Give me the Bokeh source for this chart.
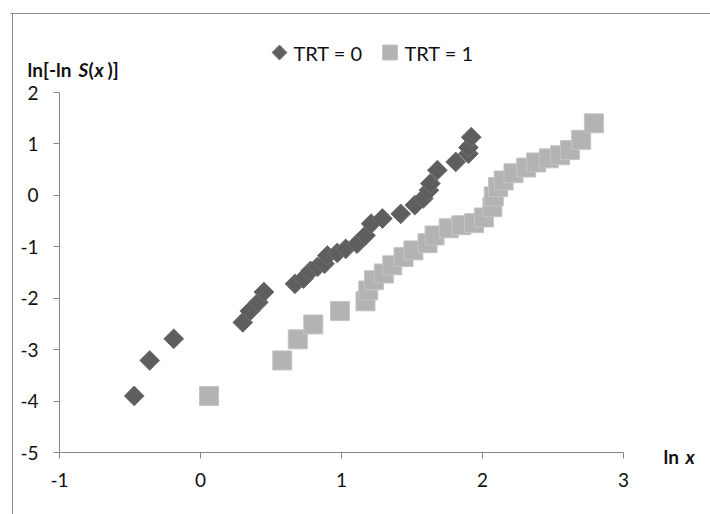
import math

from bokeh.plotting import figure
from bokeh.models import Range1d, FixedTicker, Label, LinearAxis
from bokeh.embed import file_html
from bokeh.resources import INLINE

# ln x  vs  ln[-ln S(x)] for the two treatment groups
trt0_lnx = [-0.47, -0.36, -0.19, 0.30, 0.35, 0.41, 0.45, 0.67, 0.73, 0.78, 0.83,
            0.88, 0.90, 0.97, 1.03, 1.11, 1.17, 1.21, 1.29, 1.42, 1.52, 1.58,
            1.62, 1.63, 1.68, 1.81, 1.90, 1.90, 1.92]
trt0_lnls = [-3.90, -3.21, -2.79, -2.47, -2.25, -2.08, -1.88, -1.72, -1.62, -1.47,
             -1.39, -1.33, -1.17, -1.12, -1.04, -0.94, -0.78, -0.55, -0.45, -0.36,
             -0.19, -0.06, 0.10, 0.23, 0.49, 0.65, 0.81, 0.93, 1.13]

trt1_lnx = [0.06, 0.58, 0.69, 0.80, 0.99, 1.17, 1.19, 1.23, 1.30, 1.36, 1.44, 1.51,
            1.61, 1.66, 1.76, 1.85, 1.94, 2.01, 2.07, 2.08, 2.11, 2.15, 2.22, 2.31,
            2.38, 2.47, 2.55, 2.62, 2.70, 2.79]
trt1_lnls = [-3.90, -3.21, -2.80, -2.51, -2.25, -2.06, -1.85, -1.65, -1.52, -1.36,
             -1.20, -1.07, -0.93, -0.78, -0.64, -0.58, -0.54, -0.43, -0.23, -0.02,
             0.16, 0.29, 0.43, 0.54, 0.64, 0.72, 0.78, 0.88, 1.08, 1.40]

x_ticks = [-1, 0, 1, 2, 3]
y_ticks = [-5, -4, -3, -2, -1, 0, 1, 2]
legend_labels = ["TRT = 0", "TRT = 1"]

FONT = "Lato"
AXIS_GRAY = "#868686"
TEXT = "#111111"
DARK = "#5e5e5e"
LIGHT = "#b3b3b3"

W, H = 710, 514
# axis box on the canvas: x = -1..3 spans px 59..623, y = -5..2 spans px 452..92
X0_PX, X_SCALE = 59, 141.0
Y0_PX, Y_SCALE = 452, 360 / 7


def px_x(px):
    return -1 + (px - X0_PX) / X_SCALE


def px_y(py):
    return -5 + (Y0_PX - py) / Y_SCALE


p = figure(width=W, height=H,
           x_range=Range1d(px_x(0), px_x(W)), y_range=Range1d(px_y(H), px_y(0)),
           output_backend="svg", toolbar_location=None,
           x_axis_location=None, y_axis_location=None, min_border=0)
p.outline_line_color = None
p.grid.visible = False
p.background_fill_color = "white"
p.border_fill_color = "white"

xaxis = LinearAxis(fixed_location=-5)
yaxis = LinearAxis(fixed_location=-1)
p.add_layout(xaxis, "below")
p.add_layout(yaxis, "left")

for ax, ticks in ((xaxis, x_ticks), (yaxis, y_ticks)):
    ax.ticker = FixedTicker(ticks=ticks)
    ax.bounds = (ticks[0], ticks[-1])
    ax.major_label_overrides = {t: str(t) for t in ticks}
    ax.axis_line_color = AXIS_GRAY
    ax.major_tick_line_color = AXIS_GRAY
    ax.major_tick_in = 0
    ax.major_tick_out = 6
    ax.minor_tick_line_color = None
    ax.major_label_text_font = FONT
    ax.major_label_text_font_size = "19px"
    ax.major_label_text_color = TEXT
xaxis.major_label_standoff = 14
yaxis.major_label_standoff = 15

# chart-area rules along the top and left edges
p.segment(x0=[px_x(10), px_x(12)], y0=[px_y(13), px_y(13)],
          x1=[px_x(W), px_x(12)], y1=[px_y(13), px_y(H)],
          line_color="#8a8a8a", line_width=1)

# data series
p.scatter(trt0_lnx, trt0_lnls, marker="square", angle=math.pi / 4, size=14,
          fill_color=DARK, line_color="#707070", line_width=1)
p.scatter(trt1_lnx, trt1_lnls, marker="square", size=19,
          fill_color=LIGHT, line_color="#c4c4c4", line_width=1)

# legend keys and labels
p.scatter([px_x(279)], [px_y(52)], marker="square", angle=math.pi / 4, size=10.5,
          fill_color=DARK, line_color="#707070")
p.scatter([px_x(389.5)], [px_y(52)], marker="square", size=15,
          fill_color=LIGHT, line_color="#c4c4c4")
for lx, txt in ((293, legend_labels[0]), (404, legend_labels[1])):
    p.add_layout(Label(x=px_x(lx), y=px_y(52.5), text=txt, text_font=FONT,
                       text_font_size="20px", text_color=TEXT,
                       text_baseline="middle", text_align="left"))


# axis titles with italic symbols
def title_piece(px, py, txt, italic=False):
    p.add_layout(Label(x=px_x(px), y=px_y(py), text=txt, text_font=FONT,
                       text_font_size="19px",
                       text_font_style="bold italic" if italic else "bold",
                       text_color=TEXT, text_baseline="alphabetic", text_align="left"))


title_piece(27, 68.5, "ln[-ln")
title_piece(78, 68.5, "S", italic=True)
title_piece(88, 68.5, "(")
title_piece(94, 68.5, "x", italic=True)
title_piece(107, 68.5, ")]")

title_piece(663, 456, "ln")
title_piece(685, 456, "x", italic=True)

open("out.html", "w").write(file_html(p, INLINE))
